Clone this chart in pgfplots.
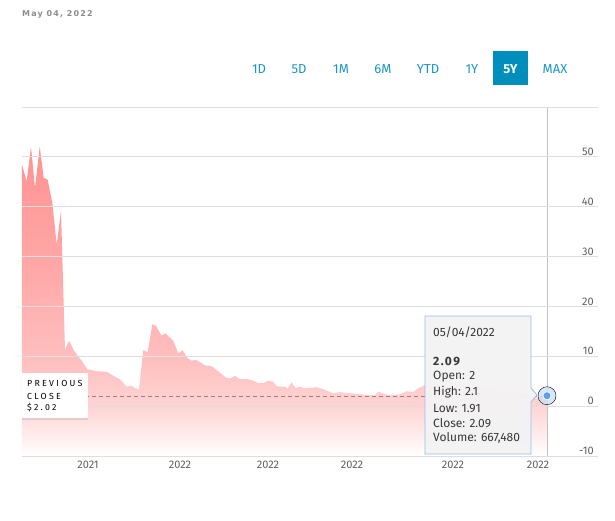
\documentclass[border=0pt]{standalone}
\usepackage{pgfplots}
\pgfplotsset{compat=1.18}
\usepackage{fontspec}
\setmainfont{Fira Sans}
\newfontfamily\hdrfont[LetterSpace=14]{DejaVu Sans}
\newfontfamily\pcfont[LetterSpace=26]{Fira Sans}
\newfontfamily\numfont[LetterSpace=12]{Fira Sans}
\usetikzlibrary{shadows}

\definecolor{gridgray}{RGB}{222,222,222}
\definecolor{ticktext}{RGB}{95,95,95}
\definecolor{btnblue}{RGB}{25,150,200}
\definecolor{btnfill}{RGB}{0,143,188}
\definecolor{prevline}{RGB}{180,120,120}
\definecolor{cursor}{RGB}{195,195,195}
\definecolor{ptblue}{RGB}{95,160,230}
\definecolor{haloblue}{RGB}{205,225,245}
\definecolor{tipfill}{RGB}{243,243,243}
\definecolor{tipedge}{RGB}{150,190,230}
\definecolor{tiptext}{RGB}{55,55,55}
\definecolor{fadeA}{RGB}{255,238,238}
\definecolor{fadeB}{RGB}{255,212,212}
\definecolor{fadeC}{RGB}{255,192,192}
\definecolor{fadeD}{RGB}{255,168,168}
\definecolor{fadeE}{RGB}{255,146,146}

\pgfdeclareverticalshading{areafade}{100bp}{%
  color(0bp)=(white); color(25bp)=(white); color(28bp)=(fadeA);
  color(33bp)=(fadeB); color(40bp)=(fadeC); color(55bp)=(fadeD);
  color(75bp)=(fadeE); color(100bp)=(fadeE)}

\begin{document}
\begin{tikzpicture}[x=1pt,y=1pt]
% page frame, in pixels from the lower left corner of the picture
\begin{scope}[shift={(-22,-64)}]
\path (0,0) rectangle (615,520);
\node[anchor=west, inner sep=0, text=gray!90, font=\hdrfont\bfseries\fontsize{8}{8}\selectfont] at (22,506) {May 04, 2022};
\fill[btnfill] (493,469) rectangle (528,435);
\begin{scope}[every node/.style={text=btnblue, font=\fontsize{13}{13}\selectfont, inner sep=0}]
\node at (259,451) {1D};
\node at (299,451) {5D};
\node at (341,451) {1M};
\node at (383,451) {6M};
\node at (428,451) {YTD};
\node at (472,451) {1Y};
\node[text=white, font=\bfseries\fontsize{13}{13}\selectfont] at (510.5,451) {5Y};
\node at (555,451) {MAX};
\end{scope}
\end{scope}

\begin{axis}[
  width=576pt, height=349pt, scale only axis,
  xmin=0, xmax=576, ymin=-10, ymax=60,
  separate axis lines,
  x axis line style={draw=gridgray},
  y axis line style={draw=none},
  axis on top,
  ymajorgrids, major grid style={gridgray, line width=0.8pt},
  major tick length=0pt,
  ytick={-10,0,10,20,30,40,50},
  yticklabel pos=right,
  yticklabel style={anchor=south east, inner sep=1pt, xshift=-3pt, text=ticktext, font=\fontsize{11}{11}\selectfont},
  xtick={66,158,246,330,431,516},
  xticklabels={2021,2022,2022,2022,2022,2022},
  xticklabel style={text=ticktext, font=\fontsize{11}{11}\selectfont, yshift=-1pt},
  /pgf/number format/assume math mode=true,
]
% price area
\addplot[draw=none, shading=areafade] coordinates {
(0,-10) (0,48.4) (4.7,45.1) (9,52) (13,43.8) (17.7,52) (21.7,45.8) (25.7,45.4)
(30.3,40.8) (34.7,32.4) (39,39.1) (43,11.4) (47.3,13.1) (52,11.1) (59.7,9.1)
(65.3,7.4) (74.7,7.0) (84.7,6.9) (91.3,6.1) (98,5.4) (104.7,3.9) (109.7,4.1)
(113,3.6) (117,3.4) (121.3,11.3) (125.7,10.8) (130.3,16.4) (134,16.1) (139.3,14.2)
(143.3,14.6) (151.3,13.1) (156.3,10.6) (160.7,11.2) (165.7,9.6) (169.7,9.1) (174,9.3)
(183,8.2) (189.7,8.0) (196.3,7.0) (204.7,5.6) (208.7,5.6) (213,6.1) (218,5.4)
(226.3,5.4) (231.3,5.1) (236.3,4.6) (241.3,4.6) (246.3,5.1) (251.3,4.9) (254.7,4.0)
(263,3.9) (265.3,3.5) (269.7,4.8) (273.7,3.6) (278,3.9) (283,3.6) (294.7,3.8)
(301.3,3.4) (311.3,2.6) (318,2.8) (328,2.6) (338,2.4) (348,2.2) (353,2.2)
(356.3,2.9) (364.7,2.3) (371.3,2.2) (378,2.4) (384.7,3.0) (391.3,2.8) (396.3,3.6)
(403,4.2) (413,4.0) (423,3.8) (433,3.6) (443,3.9) (453,3.5) (463,3.3) (473,3.4)
(483,3.0) (493,2.9) (503,2.6) (511,1.6) (518,1.8) (525,2.09) (525,-10)
} -- cycle;
% previous close
\addplot[prevline, line width=0.8pt, dash pattern=on 4pt off 3pt] coordinates {(0,2.02) (525,2.02)};
% cursor
\addplot[cursor, line width=0.8pt] coordinates {(525.5,-10) (525.5,60)};
\addplot[only marks, mark=*, mark size=9pt, mark options={fill=haloblue, draw=none, fill opacity=0.8}] coordinates {(525,2.09)};
\addplot[only marks, mark=*, mark size=4pt, mark options={fill=ptblue, draw=white, line width=0.6pt}] coordinates {(525,2.09)};
\end{axis}

\begin{scope}[shift={(-22,-64)}]
% previous close label
\fill[white, drop shadow={opacity=0.2, shadow xshift=0pt, shadow yshift=-2pt}] (22,147) rectangle (88,102);
\begin{scope}[every node/.style={anchor=west, inner sep=0, text=black, font=\pcfont\fontsize{8.8}{8.8}\selectfont}]
\node at (27,137) {PREVIOUS};
\node at (27,124) {CLOSE};
\node at (27,112) {\$2.02};
\end{scope}

% tooltip
\filldraw[fill=tipfill, fill opacity=0.96, draw=tipedge, line width=0.8pt]
  (425,204) -- (531,204) -- (531,132) -- (537,125) -- (531,118) -- (531,66) -- (425,66) -- cycle;
\begin{scope}[every node/.style={anchor=west, inner sep=0, text=tiptext, font=\fontsize{12}{12}\selectfont}]
\node at (433,188) {05/04/2022};
\node[font=\numfont\bfseries\fontsize{12}{12}\selectfont] at (433,158) {2.09};
\node at (433,143) {Open: 2};
\node at (433,128) {High: 2.1};
\node at (433,112) {Low: 1.91};
\node at (433,97) {Close: 2.09};
\node at (433,82) {Volume: 667,480};
\end{scope}
\end{scope}
\end{tikzpicture}
\end{document}
